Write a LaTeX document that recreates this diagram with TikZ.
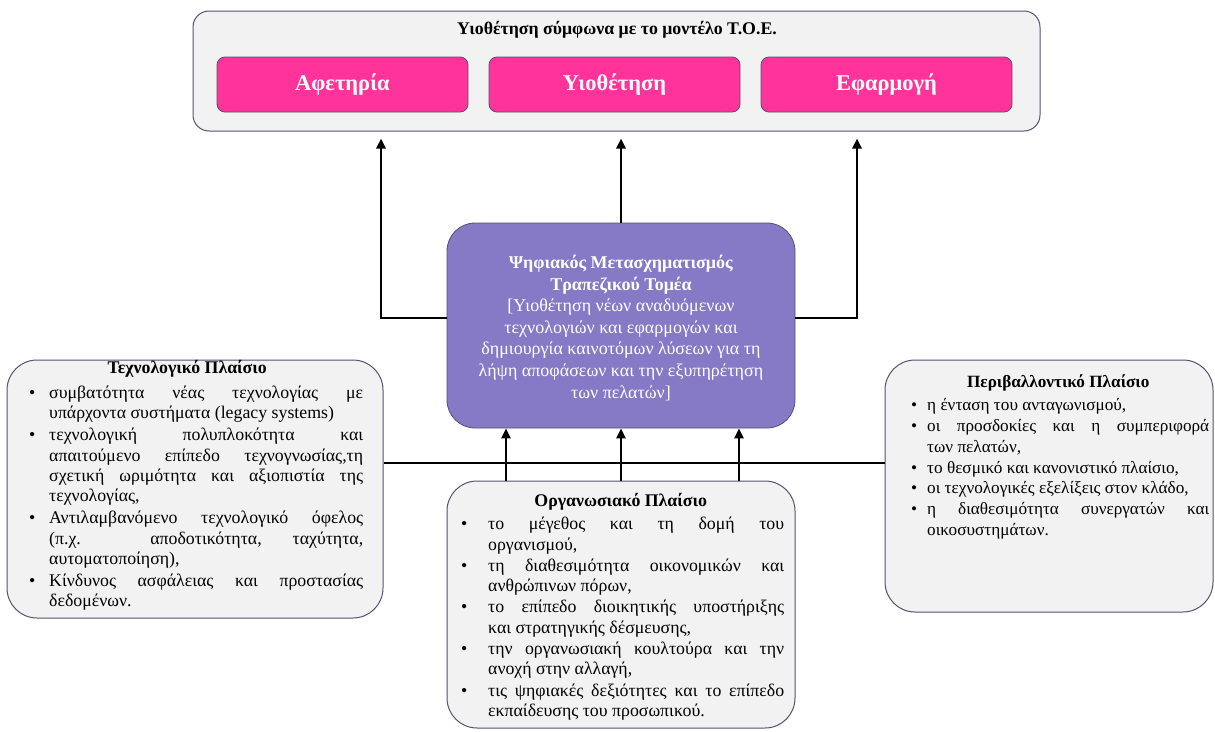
\documentclass[tikz,border=0pt]{standalone}
\usepackage{fontspec}
\setmainfont{Liberation Serif}
\usetikzlibrary{arrows.meta,calc}
\definecolor{pinkbox}{HTML}{FF3399}
\definecolor{purplebox}{HTML}{8679C5}
\definecolor{edgec}{HTML}{55516F}
\definecolor{greyfill}{HTML}{F2F2F2}
\newlength\bulind
\newlength\bulpos
\newcommand\boxtitle[1]{{\centering\bfseries #1\par}}
\newcommand\bul[1]{\par\vspace{\itemgap}\noindent\hangindent=\bulind\hangafter=1\makebox[\bulind][l]{\hspace{\bulpos}\textbullet}\ignorespaces#1\par}
\newlength\itemgap
\hyphenpenalty=10000
\exhyphenpenalty=10000
\tikzset{
  panel/.style={draw=edgec, line width=1pt, fill=greyfill, rounded corners=#1, inner sep=0pt},
  pinkstep/.style={draw=edgec, line width=0.8pt, fill=pinkbox, rounded corners=8pt,
    minimum width=251pt, minimum height=55pt, inner sep=0pt, text=white,
    font=\fontsize{22.5}{26}\selectfont\bfseries},
  centrebox/.style={draw=edgec, line width=0.8pt, fill=purplebox, rounded corners=28pt,
    minimum width=348pt, minimum height=205pt, inner sep=0pt},
  listtext/.style={anchor=north west, inner sep=0pt, align=justify, text width=#1},
  flow/.style={line width=2.8pt, -{Triangle[width=9pt,length=10pt]}},
  plain/.style={line width=2.8pt}
}
\begin{document}
\begin{tikzpicture}[x=1pt,y=-1pt]
\useasboundingbox (0,0) rectangle (1215,731);
% top panel
\node[panel=16pt, minimum width=847pt, minimum height=120pt] (top) at (616.5,71) {};
\node[font=\fontsize{17.8}{20}\selectfont\bfseries] (toptitle) at (617,30) {Υιοθέτηση σύμφωνα με το μοντέλο Τ.Ο.Ε.};
\node[pinkstep] (start) at (342.5,84.5) {Αφετηρία};
\node[pinkstep] (adopt) at (614.5,84.5) {Υιοθέτηση};
\node[pinkstep] (apply) at (886.5,84.5) {Εφαρμογή};
% centre
\node[centrebox] (dt) at (621,325.5) {};
\node[anchor=north, align=center, text=white, inner sep=0pt,
  font=\fontsize{18}{21.6}\selectfont] (dttext) at (621,255)
  {\textbf{Ψηφιακός Μετασχηματισμός}\\\textbf{Τραπεζικού Τομέα}\\
   {[}Υιοθέτηση νέων αναδυόμενων\\τεχνολογιών και εφαρμογών και\\
   δημιουργία καινοτόμων λύσεων για τη\\λήψη αποφάσεων και την εξυπηρέτηση\\των πελατών{]}};
% technological
\node[panel=30pt, minimum width=376pt, minimum height=258pt] (tech) at (195,489) {};
\node[listtext=338pt, font=\fontsize{17.8}{20.3}\selectfont\setlength\bulind{24pt}\setlength\bulpos{4pt}\setlength\itemgap{1.8pt}] (techtext) at (25,360) {%
\boxtitle{\hspace*{-14pt}Τεχνολογικό Πλαίσιο}\vspace{3pt}
\bul{συμβατότητα νέας τεχνολογίας με\linebreak υπάρχοντα συστήματα (legacy systems)}
\bul{τεχνολογική πολυπλοκότητα και\linebreak απαιτούμενο επίπεδο τεχνογνωσίας,τη\linebreak σχετική ωριμότητα και αξιοπιστία της\linebreak τεχνολογίας,}
\bul{Αντιλαμβανόμενο τεχνολογικό όφελος\linebreak (π.χ. αποδοτικότητα, ταχύτητα,\linebreak αυτοματοποίηση),}
\bul{Κίνδυνος ασφάλειας και προστασίας\linebreak δεδομένων.}};
% organisational
\node[panel=30pt, minimum width=348pt, minimum height=247pt] (org) at (621,604.5) {};
\node[listtext=327pt, font=\fontsize{17.8}{20.3}\selectfont\setlength\bulind{31pt}\setlength\bulpos{4pt}\setlength\itemgap{1pt}] (orgtext) at (457,493) {%
\boxtitle{Οργανωσιακό Πλαίσιο}\vspace{2pt}
\bul{το μέγεθος και τη δομή του\linebreak οργανισμού,}
\bul{τη διαθεσιμότητα οικονομικών και\linebreak ανθρώπινων πόρων,}
\bul{το επίπεδο διοικητικής υποστήριξης\linebreak και στρατηγικής δέσμευσης,}
\bul{την οργανωσιακή κουλτούρα και την\linebreak ανοχή στην αλλαγή,}
\bul{τις ψηφιακές δεξιότητες και το επίπεδο\linebreak εκπαίδευσης του προσωπικού.}};
% environmental
\node[panel=30pt, minimum width=328pt, minimum height=252pt] (env) at (1049,486) {};
\node[listtext=302pt, font=\fontsize{17.2}{20.4}\selectfont\setlength\bulind{20pt}\setlength\bulpos{4pt}\setlength\itemgap{0.5pt}] (envtext) at (907,375) {%
\boxtitle{Περιβαλλοντικό Πλαίσιο}\vspace{2pt}
\bul{η ένταση του ανταγωνισμού,}
\bul{οι προσδοκίες και η συμπεριφορά\linebreak των πελατών,}
\bul{το θεσμικό και κανονιστικό πλαίσιο,}
\bul{οι τεχνολογικές εξελίξεις στον κλάδο,}
\bul{η διαθεσιμότητα συνεργατών και\linebreak οικοσυστημάτων.}};
% connectors
\coordinate (lk) at (381,318);
\coordinate (rk) at (857,318);
\draw[flow, shorten >=7pt] (dt.west |- lk) -- (lk) -- (lk |- top.south);
\draw[flow, shorten >=7pt] (dt.east |- rk) -- (rk) -- (rk |- top.south);
\draw[flow, shorten >=7pt] (dt.north) -- (top.south -| dt.north);
\coordinate (bus) at (0,463);
\draw[plain] (tech.east |- bus) -- (env.west |- bus);
\draw[flow] (org.north -| 506,0) -- (dt.south -| 506,0);
\draw[flow] (org.north) -- (dt.south);
\draw[flow] (org.north -| 739,0) -- (dt.south -| 739,0);
\end{tikzpicture}
\end{document}
